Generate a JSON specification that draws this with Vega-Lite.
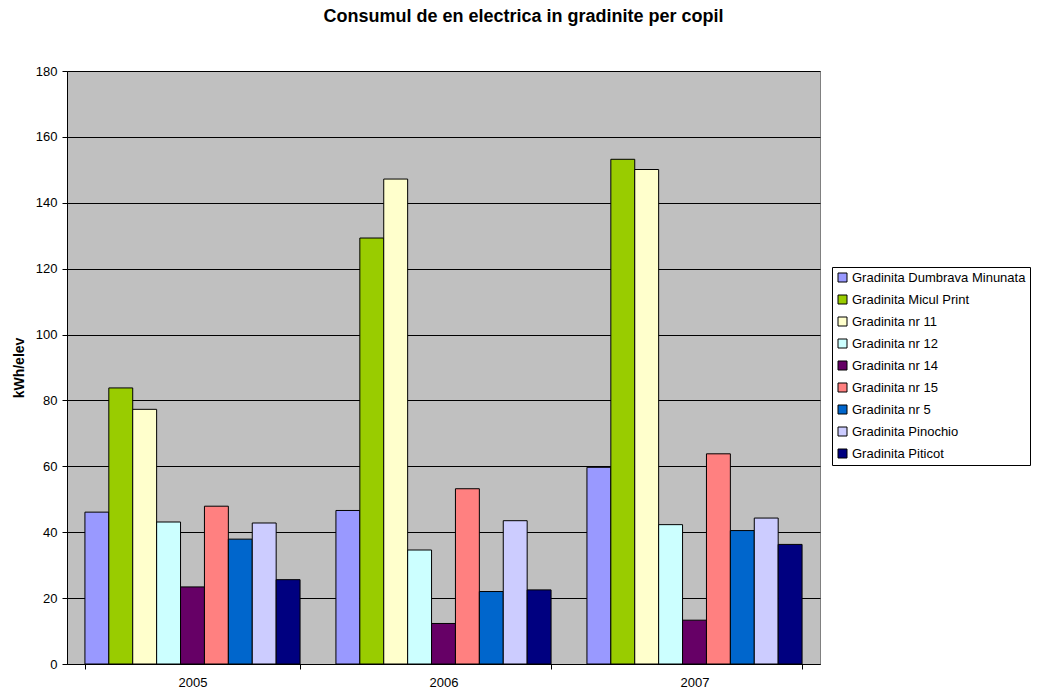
{
  "$schema": "https://vega.github.io/schema/vega-lite/v6.json",
  "autosize": {"type": "none"},
  "padding": {"left": 67, "top": 71, "right": 229, "bottom": 31},
  "width": 753,
  "height": 593,
  "background": "white",
  "title": {
    "text": "Consumul de en electrica in gradinite per copil",
    "anchor": "middle",
    "frame": "group",
    "dx": 80,
    "offset": 39,
    "font": "Liberation Sans",
    "fontSize": 18,
    "fontWeight": "bold",
    "color": "black"
  },
  "config": {
    "view": {"fill": "#C0C0C0", "stroke": "#808080", "strokeWidth": 1},
    "axis": {"labelFont": "Liberation Sans", "labelFontSize": 13, "labelColor": "black", "titleFont": "Liberation Sans", "titleColor": "black"}
  },
  "data": {
    "values": [
      {"year": "2005", "school": "Gradinita Dumbrava Minunata", "value": 46.1},
      {"year": "2005", "school": "Gradinita Micul Print", "value": 83.8},
      {"year": "2005", "school": "Gradinita nr 11", "value": 77.3},
      {"year": "2005", "school": "Gradinita nr 12", "value": 43.1},
      {"year": "2005", "school": "Gradinita nr 14", "value": 23.4},
      {"year": "2005", "school": "Gradinita nr 15", "value": 47.9},
      {"year": "2005", "school": "Gradinita nr 5", "value": 37.9},
      {"year": "2005", "school": "Gradinita Pinochio", "value": 42.8},
      {"year": "2005", "school": "Gradinita Piticot", "value": 25.6},
      {"year": "2006", "school": "Gradinita Dumbrava Minunata", "value": 46.6},
      {"year": "2006", "school": "Gradinita Micul Print", "value": 129.3},
      {"year": "2006", "school": "Gradinita nr 11", "value": 147.2},
      {"year": "2006", "school": "Gradinita nr 12", "value": 34.6},
      {"year": "2006", "school": "Gradinita nr 14", "value": 12.3},
      {"year": "2006", "school": "Gradinita nr 15", "value": 53.2},
      {"year": "2006", "school": "Gradinita nr 5", "value": 22.0},
      {"year": "2006", "school": "Gradinita Pinochio", "value": 43.5},
      {"year": "2006", "school": "Gradinita Piticot", "value": 22.5},
      {"year": "2007", "school": "Gradinita Dumbrava Minunata", "value": 59.7},
      {"year": "2007", "school": "Gradinita Micul Print", "value": 153.2},
      {"year": "2007", "school": "Gradinita nr 11", "value": 150.1},
      {"year": "2007", "school": "Gradinita nr 12", "value": 42.3},
      {"year": "2007", "school": "Gradinita nr 14", "value": 13.3},
      {"year": "2007", "school": "Gradinita nr 15", "value": 63.8},
      {"year": "2007", "school": "Gradinita nr 5", "value": 40.5},
      {"year": "2007", "school": "Gradinita Pinochio", "value": 44.3},
      {"year": "2007", "school": "Gradinita Piticot", "value": 36.3}
    ]
  },
  "mark": {"type": "bar", "stroke": "black", "strokeWidth": 1, "opacity": 1},
  "encoding": {
    "x": {
      "field": "year",
      "type": "nominal",
      "scale": {"paddingInner": 0.1429, "paddingOuter": 0.0714},
      "axis": {"title": null, "labelAngle": 0, "tickBand": "extent", "domainColor": "black", "tickColor": "black", "tickSize": 5, "labelPadding": 7, "grid": false}
    },
    "xOffset": {
      "field": "school",
      "type": "nominal",
      "sort": ["Gradinita Dumbrava Minunata", "Gradinita Micul Print", "Gradinita nr 11", "Gradinita nr 12", "Gradinita nr 14", "Gradinita nr 15", "Gradinita nr 5", "Gradinita Pinochio", "Gradinita Piticot"],
      "scale": {"paddingInner": 0, "paddingOuter": 0}
    },
    "y": {
      "field": "value",
      "type": "quantitative",
      "scale": {"domain": [0, 180], "nice": false},
      "axis": {"title": "kWh/elev", "titleFontSize": 14, "titleFontWeight": "bold", "titlePadding": 9, "values": [0, 20, 40, 60, 80, 100, 120, 140, 160, 180], "grid": true, "gridColor": "black", "gridOpacity": 1, "gridWidth": 1, "domainColor": "black", "tickColor": "black", "tickSize": 5, "labelPadding": 5}
    },
    "color": {
      "field": "school",
      "type": "nominal",
      "sort": ["Gradinita Dumbrava Minunata", "Gradinita Micul Print", "Gradinita nr 11", "Gradinita nr 12", "Gradinita nr 14", "Gradinita nr 15", "Gradinita nr 5", "Gradinita Pinochio", "Gradinita Piticot"],
      "scale": {
        "domain": ["Gradinita Dumbrava Minunata", "Gradinita Micul Print", "Gradinita nr 11", "Gradinita nr 12", "Gradinita nr 14", "Gradinita nr 15", "Gradinita nr 5", "Gradinita Pinochio", "Gradinita Piticot"],
        "range": ["#9999FF", "#99CC00", "#FFFFCC", "#CCFFFF", "#660066", "#FF8080", "#0066CC", "#CCCCFF", "#000080"]
      },
      "legend": {
        "title": null,
        "orient": "none",
        "legendX": 765,
        "legendY": 196,
        "fillColor": "white",
        "strokeColor": "black",
        "padding": 4,
        "symbolType": "square",
        "symbolSize": 81,
        "symbolStrokeColor": "black",
        "symbolStrokeWidth": 1,
        "symbolOpacity": 1,
        "labelFont": "Liberation Sans",
        "labelFontSize": 13,
        "labelColor": "black",
        "labelOffset": 3,
        "labelLimit": 300,
        "rowPadding": 8
      }
    }
  }
}
